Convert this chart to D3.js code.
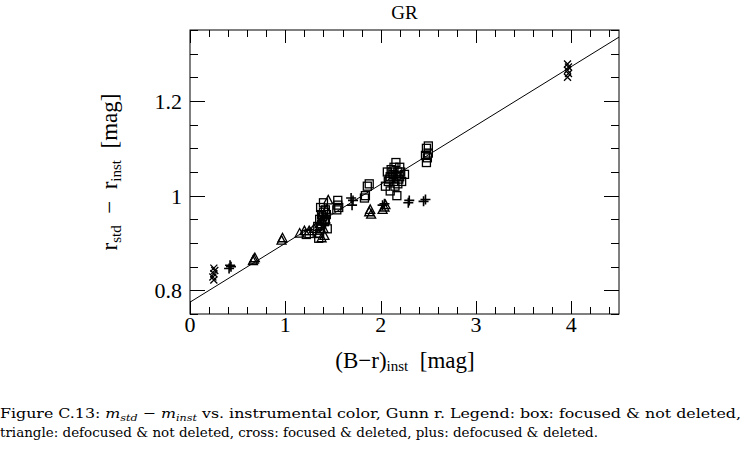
<!DOCTYPE html>
<html><head><meta charset="utf-8">
<script src="https://cdn.jsdelivr.net/npm/d3@7"></script>
<style>body{margin:0;background:#fff}svg{display:block}</style>
</head><body><svg id="c" width="744" height="459" font-family="Liberation Serif, DejaVu Serif, serif"></svg>
<script>
const title = "GR";
const xTicks = [0, 1, 2, 3, 4];
const yTicks = [0.8, 1.0, 1.2];
const yTickLabels = ["0.8", "1", "1.2"];
const fitLine = [[0, 0.775], [4.5, 1.335]];
// box: focused & not deleted
const boxX = [1.22,1.25,1.35,1.36,1.37,1.38,1.36,1.38,1.40,1.42,1.37,1.40,1.44,1.42,1.39,1.41,1.34,1.43,1.54,1.55,1.55,1.56,1.84,1.86,1.88,1.83,2.05,2.08,2.10,2.12,2.14,2.16,2.18,2.20,2.22,2.10,2.15,2.17,2.13,2.20,2.07,2.25,2.19,2.11,2.16,2.21,2.09,2.14,2.18,2.48,2.49,2.50,2.48,2.50,2.47];
const boxY = [0.918,0.920,0.910,0.920,0.930,0.940,0.950,0.960,0.965,0.970,0.975,0.985,0.930,0.950,0.955,0.945,0.935,0.960,0.970,0.980,0.990,0.975,1.000,1.020,1.025,0.995,1.020,1.030,1.040,1.050,1.060,1.070,1.050,1.040,1.030,1.010,1.020,1.000,1.045,1.060,1.050,1.045,1.035,1.055,1.040,1.050,1.035,1.030,1.025,1.070,1.080,1.090,1.100,1.105,1.085];
// triangle: defocused & not deleted
const triX = [0.66,0.68,0.67,0.96,0.97,1.15,1.20,1.25,1.30,1.35,1.38,1.40,1.42,1.45,1.43,1.39,1.36,1.41,1.88,1.89,1.90,2.02,2.04,2.05];
const triY = [0.862,0.868,0.865,0.905,0.910,0.920,0.925,0.925,0.930,0.920,0.910,0.930,0.950,0.990,0.970,0.945,0.940,0.915,0.965,0.970,0.960,0.970,0.975,0.980];
// cross: focused & deleted
const crossX = [0.25,0.24,0.25,0.26,0.25,3.96,3.97,3.96,3.97,3.96];
const crossY = [0.822,0.828,0.835,0.842,0.847,1.250,1.258,1.265,1.272,1.278];
// plus: defocused & deleted
const plusX = [0.41,0.43,0.42,1.38,1.40,1.70,1.71,1.69,2.02,2.04,2.29,2.30,2.45,2.47];
const plusY = [0.846,0.850,0.853,0.940,0.955,0.980,0.990,0.995,0.980,0.983,0.985,0.990,0.988,0.992];

const svg = d3.select("#c");
const L = 190, R = 619, T = 30, B = 314;
const x = d3.scaleLinear().domain([0, 4.5]).range([L, R]);
const y = d3.scaleLinear().domain([0.75, 1.35]).range([B, T]);

svg.append("rect").attr("x", L).attr("y", T).attr("width", R - L).attr("height", B - T)
  .attr("fill", "none").attr("stroke", "#000").attr("stroke-width", 1);

// ticks
const xMinor = d3.range(0, 4.5001, 0.2).map(v => +v.toFixed(2));
const yMinor = d3.range(0.75, 1.3501, 0.05).map(v => +v.toFixed(2));
const isMajX = v => Math.abs(v - Math.round(v)) < 1e-6;
const isMajY = v => yTicks.some(t => Math.abs(t - v) < 1e-6);
const tg = svg.append("g").attr("stroke", "#000").attr("stroke-width", 1);
xMinor.forEach(v => {
  const len = isMajX(v) ? 13 : 7;
  const px = Math.round(x(v)) + 0.5;
  tg.append("line").attr("x1", px).attr("x2", px).attr("y1", B).attr("y2", B - len);
  tg.append("line").attr("x1", px).attr("x2", px).attr("y1", T).attr("y2", T + len);
});
yMinor.forEach(v => {
  const len = isMajY(v) ? 15 : 8;
  const py = Math.round(y(v)) + 0.5;
  tg.append("line").attr("x1", L).attr("x2", L + len).attr("y1", py).attr("y2", py);
  tg.append("line").attr("x1", R).attr("x2", R - len).attr("y1", py).attr("y2", py);
});

const SERIF = "Liberation Serif";
// tick labels
svg.append("g").selectAll("text").data(xTicks).join("text")
  .attr("font-family", SERIF)
  .attr("x", d => x(d)).attr("y", 332).attr("text-anchor", "middle")
  .attr("font-size", 22).text(d => d);
svg.append("g").selectAll("text").data(yTicks).join("text")
  .attr("font-family", SERIF)
  .attr("x", 182).attr("y", d => y(d) + 8).attr("text-anchor", "end")
  .attr("font-size", 22).text((d, i) => yTickLabels[i]);

// fit line
svg.append("path").datum(fitLine)
  .attr("d", d3.line().x(d => x(d[0])).y(d => y(d[1])))
  .attr("fill", "none").attr("stroke", "#000").attr("stroke-width", 1);

const mg = svg.append("g").attr("fill", "none").attr("stroke", "#000").attr("stroke-width", 1.3);
boxX.forEach((v, i) => {
  mg.append("rect").attr("x", x(v) - 4).attr("y", y(boxY[i]) - 4).attr("width", 8).attr("height", 8);
});
triX.forEach((v, i) => {
  const cx = x(v), cy = y(triY[i]);
  mg.append("path").attr("d", `M${cx},${cy - 5}L${cx + 4.5},${cy + 3.5}L${cx - 4.5},${cy + 3.5}Z`);
});
crossX.forEach((v, i) => {
  const cx = x(v), cy = y(crossY[i]), s = 3.5;
  mg.append("path").attr("d", `M${cx - s},${cy - s}L${cx + s},${cy + s}M${cx - s},${cy + s}L${cx + s},${cy - s}`);
});
plusX.forEach((v, i) => {
  const cx = x(v), cy = y(plusY[i]), s = 5;
  mg.append("path").attr("d", `M${cx - s},${cy}L${cx + s},${cy}M${cx},${cy - s}L${cx},${cy + s}`).attr("stroke-width", 1.6);
});

// title
svg.append("text").attr("font-family", SERIF).attr("x", (L + R) / 2).attr("y", 19).attr("text-anchor", "middle")
  .attr("font-size", 19).text(title);

// x label
const xl = svg.append("text").attr("font-family", SERIF).attr("x", 405).attr("y", 368).attr("text-anchor", "middle").attr("font-size", 23);
xl.append("tspan").text("(B\u2212r)");
xl.append("tspan").attr("font-size", 15).attr("dy", 3).text("inst");
xl.append("tspan").attr("dy", -3).text("\u2002[mag]");

// y label
const yl = svg.append("text").attr("font-family", SERIF).attr("transform", "translate(117,172) rotate(-90)")
  .attr("text-anchor", "middle").attr("font-size", 23);
yl.append("tspan").text("r");
yl.append("tspan").attr("font-size", 15).attr("dy", 4).text("std");
yl.append("tspan").attr("dy", -4).text("\u2002\u2212\u2002r");
yl.append("tspan").attr("font-size", 15).attr("dy", 4).text("inst");
yl.append("tspan").attr("dy", -4).text("\u2002[mag]");

// caption
const CAP = "DejaVu Serif";
const c1 = svg.append("text").attr("font-family", CAP).attr("x", 0).attr("y", 418).attr("font-size", 13.5)
  .attr("textLength", 741).attr("lengthAdjust", "spacingAndGlyphs");
c1.append("tspan").text("Figure C.13: ");
c1.append("tspan").attr("font-style", "italic").text("m");
c1.append("tspan").attr("font-style", "italic").attr("font-size", 9.5).attr("dy", 3).text("std");
c1.append("tspan").attr("dy", -3).text(" \u2212 ");
c1.append("tspan").attr("font-style", "italic").text("m");
c1.append("tspan").attr("font-style", "italic").attr("font-size", 9.5).attr("dy", 3).text("inst");
c1.append("tspan").attr("dy", -3).text(" vs. instrumental color, Gunn r.  Legend: box: focused & not deleted,");
svg.append("text").attr("font-family", CAP).attr("x", 0).attr("y", 437).attr("font-size", 13.5)
  .attr("textLength", 598).attr("lengthAdjust", "spacingAndGlyphs")
  .text("triangle: defocused & not deleted, cross: focused & deleted, plus: defocused & deleted.");
</script></body></html>
